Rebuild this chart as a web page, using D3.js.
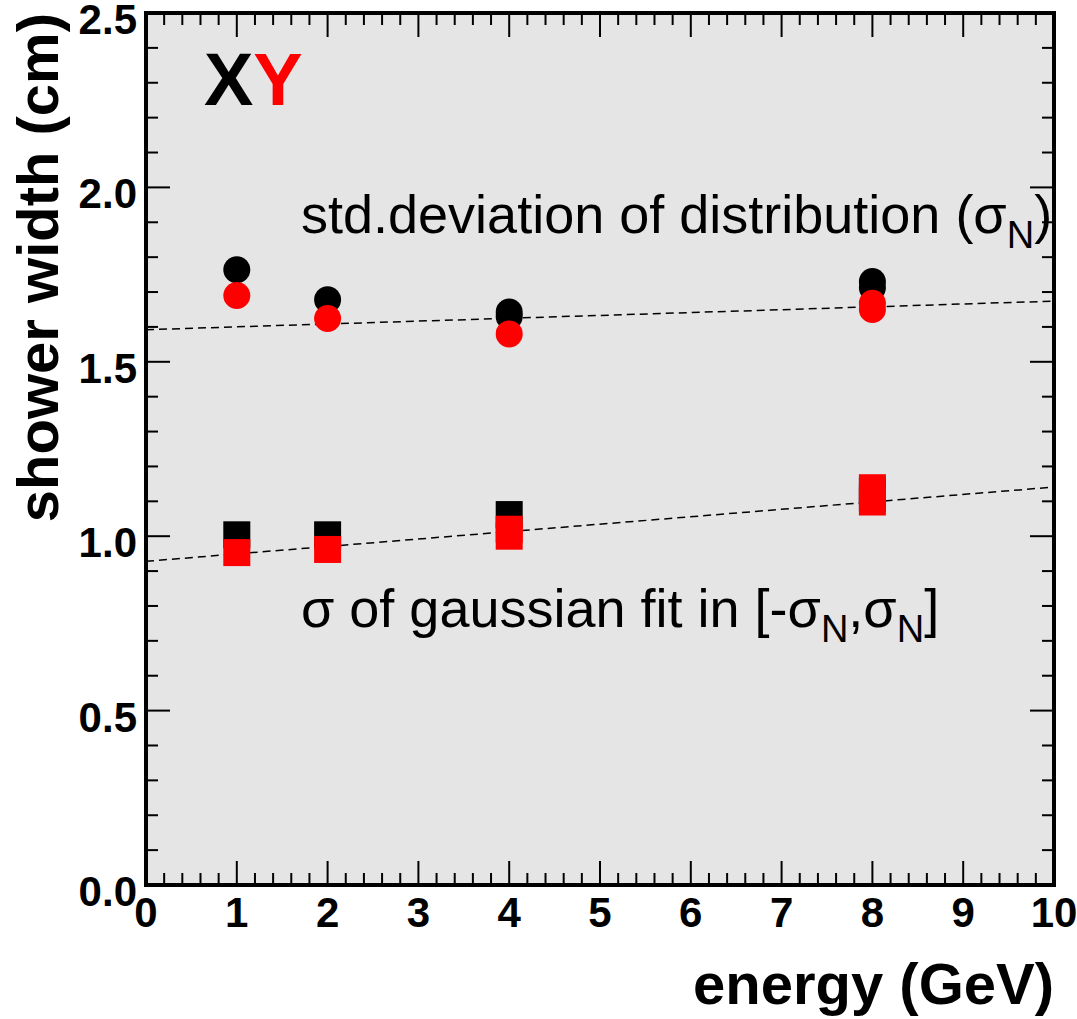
<!DOCTYPE html>
<html>
<head>
<meta charset="utf-8">
<script src="https://cdn.jsdelivr.net/npm/d3@7"></script>
<style>
  body { margin: 0; background: #fff; }
  svg text { font-family: "Liberation Sans", Arial, sans-serif; }
</style>
</head>
<body>
<div id="chart-container"></div>
<script>
// point data (energy in GeV, width in cm)
var stdXEnergy = [1, 2, 4, 4, 8, 8];
var stdXWidth = [1.764, 1.678, 1.643, 1.630, 1.730, 1.712];
var stdYEnergy = [1, 2, 4, 8, 8];
var stdYWidth = [1.690, 1.624, 1.580, 1.668, 1.650];
var gausXEnergy = [1, 2, 4, 8, 8];
var gausXWidth = [1.004, 1.004, 1.062, 1.130, 1.110];
var gausYEnergy = [1, 2, 4, 4, 8, 8];
var gausYWidth = [0.953, 0.962, 1.020, 1.000, 1.139, 1.098];

// straight-line fits, value at energy 0 and 10
var fitEnergy = [0, 10];
var fitStd = [1.592, 1.674];
var fitGaus = [0.928, 1.141];

var xTicks = [0, 1, 2, 3, 4, 5, 6, 7, 8, 9, 10];
var yTicks = [0.0, 0.5, 1.0, 1.5, 2.0, 2.5];

var width = 1077;
var height = 1019;
var margin = {left: 146, right: 23, top: 13, bottom: 134};

var svg = d3.select("#chart-container")
    .append("svg")
    .attr("width", width)
    .attr("height", height);

var x = d3.scaleLinear().domain([0, 10]).range([margin.left, width - margin.right]);
var y = d3.scaleLinear().domain([0, 2.5]).range([height - margin.bottom, margin.top]);

var x0 = x(0), x1 = x(10), y0 = y(0), y1 = y(2.5);

// grey pad
svg.append("rect")
    .attr("x", x0).attr("y", y1)
    .attr("width", x1 - x0).attr("height", y0 - y1)
    .style("fill", "#e5e5e5");

//ticks on all four sides, pointing inward
var ticks = svg.append("g").style("stroke", "#000").style("stroke-width", 2);
var xMinor = d3.range(0, 10.001, 0.2);
var yMinor = d3.range(0, 2.501, 0.1);

xMinor.forEach(function(v) {
    var major = Math.abs(v - Math.round(v)) < 1e-6;
    var len = major ? 24 : 12;
    ticks.append("line").attr("x1", x(v)).attr("x2", x(v)).attr("y1", y0).attr("y2", y0 - len);
    ticks.append("line").attr("x1", x(v)).attr("x2", x(v)).attr("y1", y1).attr("y2", y1 + len);
});
yMinor.forEach(function(v) {
    var major = Math.abs(v * 2 - Math.round(v * 2)) < 1e-6;
    var len = major ? 24 : 12;
    ticks.append("line").attr("y1", y(v)).attr("y2", y(v)).attr("x1", x0).attr("x2", x0 + len);
    ticks.append("line").attr("y1", y(v)).attr("y2", y(v)).attr("x1", x1).attr("x2", x1 - len);
});

// frame
svg.append("rect")
    .attr("x", x0).attr("y", y1)
    .attr("width", x1 - x0).attr("height", y0 - y1)
    .style("fill", "none")
    .style("stroke", "#000")
    .style("stroke-width", 4);

// tick labels
svg.selectAll(".xlab")
    .data(xTicks)
    .enter()
    .append("text")
    .attr("x", function(d) { return x(d); })
    .attr("y", 927)
    .attr("text-anchor", "middle")
    .style("font-size", "42px")
    .style("font-weight", "bold")
    .text(function(d) { return d; });

svg.selectAll(".ylab")
    .data(yTicks)
    .enter()
    .append("text")
    .attr("x", 137)
    .attr("y", function(d) { return y(d) + 21; })
    .attr("text-anchor", "end")
    .style("font-size", "42px")
    .style("font-weight", "bold")
    .text(function(d) { return d3.format(".1f")(d); });

// axis titles
svg.append("text")
    .attr("transform", "translate(58," + y1 + ") rotate(-90)")
    .attr("text-anchor", "end")
    .style("font-size", "58px")
    .style("font-weight", "bold")
    .text("shower width (cm)");

svg.append("text")
    .attr("x", x1)
    .attr("y", 1004)
    .attr("text-anchor", "end")
    .style("font-size", "58px")
    .style("font-weight", "bold")
    .text("energy (GeV)");

// fit lines
var line = d3.line().x(function(d) { return x(d[0]); }).y(function(d) { return y(d[1]); });
[fitStd, fitGaus].forEach(function(f) {
    svg.append("path")
        .attr("d", line(d3.zip(fitEnergy, f)))
        .style("fill", "none")
        .style("stroke", "#000")
        .style("stroke-width", 1.5)
        .style("stroke-dasharray", "8,5");
});

// markers, black (X) first, red (Y) on top
function plotCircles(es, ws, color) {
    svg.append("g").selectAll("circle")
        .data(d3.zip(es, ws))
        .enter()
        .append("circle")
        .attr("cx", function(d) { return x(d[0]); })
        .attr("cy", function(d) { return y(d[1]); })
        .attr("r", 13.5)
        .style("fill", color);
}
function plotSquares(es, ws, color) {
    svg.append("g").selectAll("rect")
        .data(d3.zip(es, ws))
        .enter()
        .append("rect")
        .attr("x", function(d) { return x(d[0]) - 13.5; })
        .attr("y", function(d) { return y(d[1]) - 13.5; })
        .attr("width", 27)
        .attr("height", 27)
        .style("fill", color);
}
plotCircles(stdXEnergy, stdXWidth, "#000");
plotCircles(stdYEnergy, stdYWidth, "#ff0000");
plotSquares(gausXEnergy, gausXWidth, "#000");
plotSquares(gausYEnergy, gausYWidth, "#ff0000");

// annotations
var t1 = svg.append("text")
    .attr("x", 301).attr("y", 233)
    .style("font-size", "54px");
t1.append("tspan").text("std.deviation of distribution (\u03c3");
t1.append("tspan").attr("dy", 15).style("font-size", "38px").text("N");
t1.append("tspan").attr("dy", -15).text(")");

var t2 = svg.append("text")
    .attr("x", 301).attr("y", 627)
    .style("font-size", "54px");
t2.append("tspan").text("\u03c3 of gaussian fit in [-\u03c3");
t2.append("tspan").attr("dy", 15).style("font-size", "38px").text("N");
t2.append("tspan").attr("dy", -15).text(",\u03c3");
t2.append("tspan").attr("dy", 15).style("font-size", "38px").text("N");
t2.append("tspan").attr("dy", -15).text("]");

var xy = svg.append("text")
    .attr("x", 204).attr("y", 105)
    .style("font-size", "74px")
    .style("font-weight", "bold");
xy.append("tspan").style("fill", "#000").text("X");
xy.append("tspan").style("fill", "#ff0000").text("Y");
</script>
</body>
</html>
